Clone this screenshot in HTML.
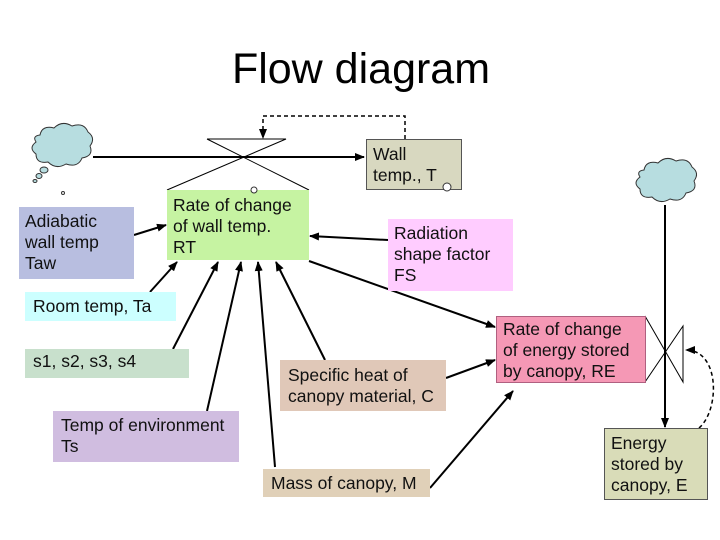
<!DOCTYPE html>
<html><head><style>
body{margin:0;width:720px;height:540px;background:#fff;overflow:hidden;position:relative;font-family:"Liberation Sans",sans-serif}
.b{position:absolute;font-size:17.5px;line-height:21px;color:#111;padding:4px 6px;box-sizing:border-box;white-space:nowrap}
</style></head><body>
<svg width="720" height="540" style="position:absolute;left:0;top:0">
<defs><marker id="a" markerWidth="10" markerHeight="8" refX="9" refY="4" orient="auto" markerUnits="userSpaceOnUse"><path d="M0,0 L10,4 L0,8z" fill="#000"/></marker></defs>
<text x="361" y="83" font-size="43" text-anchor="middle" font-family="Liberation Sans">Flow diagram</text>
<g fill="#b7dde0" stroke="#333" stroke-width="1">
<path d="M40,135 q2,-10 14,-7 q8,-8 18,-2 q12,-4 16,6 q8,6 2,14 q4,10 -8,12 q-4,10 -16,6 q-10,6 -18,-2 q-12,2 -12,-8 q-8,-6 0,-12 q-4,-6 4,-7z"/>
<ellipse cx="44" cy="170" rx="4" ry="3"/><ellipse cx="39" cy="176" rx="3" ry="2.5"/><ellipse cx="35" cy="181" rx="2" ry="1.5"/>
<path d="M644,170 q2,-10 14,-7 q8,-8 18,-2 q12,-4 16,6 q8,6 2,14 q4,10 -8,12 q-4,10 -16,6 q-10,6 -18,-2 q-12,2 -12,-8 q-8,-6 0,-12 q-4,-6 4,-7z"/>
</g>
<circle cx="63" cy="193" r="1.5" fill="none" stroke="#333"/>
<g stroke="#000" stroke-width="1" fill="none">
<path d="M207,139 L286,139 L167,190 M207,139 L309,190"/>
<path d="M645,316 L683,382 L683,326 L645,382"/>
</g>
<g stroke="#000" stroke-width="2" fill="none" marker-end="url(#a)">
<line x1="93" y1="157" x2="364" y2="157"/>
<line x1="665" y1="205" x2="665" y2="427"/>
<line x1="134" y1="235" x2="166" y2="225"/>
<line x1="150" y1="292" x2="177" y2="262"/>
<line x1="173" y1="349" x2="218" y2="262"/>
<line x1="207" y1="411" x2="241" y2="262"/>
<line x1="275" y1="467" x2="258" y2="262"/>
<line x1="325" y1="360" x2="276" y2="262"/>
<line x1="388" y1="240" x2="310" y2="236"/>
<line x1="309" y1="261" x2="495" y2="327"/>
<line x1="446" y1="378" x2="495" y2="360"/>
<line x1="430" y1="488" x2="513" y2="391"/>
</g>
<g stroke="#000" stroke-width="1.5" fill="none" stroke-dasharray="4,3" marker-end="url(#a)">
<path d="M405,139 L405,116 L263,116 L263,138"/>
<path d="M699,428 C720,410 720,350 686,350"/>
</g>
</svg>
<div class="b" style="left:19px;top:207px;width:115px;height:72px;background:#b8bee0">Adiabatic<br>wall temp<br>Taw</div>
<div class="b" style="left:167px;top:190px;width:142px;height:70px;background:#c6f3a2;padding-top:5px">Rate of change<br>of wall temp.<br>RT</div>
<div class="b" style="left:366px;top:139px;width:96px;height:51px;background:#d8d8c0;border:1px solid #555">Wall<br>temp., T</div>
<div class="b" style="left:388px;top:219px;width:125px;height:72px;background:#ffccff;padding-top:4px">Radiation<br>shape factor<br>FS</div>
<div class="b" style="left:25px;top:292px;width:151px;height:29px;background:#ccffff;padding-left:8px">Room temp, Ta</div>
<div class="b" style="left:25px;top:349px;width:164px;height:29px;background:#c8e0cc;padding-left:8px;padding-top:2px">s1, s2, s3, s4</div>
<div class="b" style="left:53px;top:411px;width:186px;height:51px;background:#d0bde0;padding-left:8px">Temp of environment<br>Ts</div>
<div class="b" style="left:280px;top:360px;width:166px;height:51px;background:#e0c8b8;padding-left:8px;padding-top:5px">Specific heat of<br>canopy material, C</div>
<div class="b" style="left:263px;top:469px;width:167px;height:28px;background:#e0d0b8;padding-left:8px;padding-top:4px">Mass of canopy, M</div>
<div class="b" style="left:496px;top:316px;width:150px;height:67px;background:#f598b5;border:1px solid #b06080;padding-top:2px">Rate of change<br>of energy stored<br>by canopy, RE</div>
<div class="b" style="left:604px;top:428px;width:104px;height:72px;background:#d9dcb8;border:1px solid #555;padding-top:4px">Energy<br>stored by<br>canopy, E</div>
<svg width="720" height="540" style="position:absolute;left:0;top:0;pointer-events:none">
<circle cx="254" cy="190" r="3" fill="#fff" stroke="#333"/>
<circle cx="447" cy="187" r="4" fill="#fff" stroke="#333"/>
</svg>
</body></html>
